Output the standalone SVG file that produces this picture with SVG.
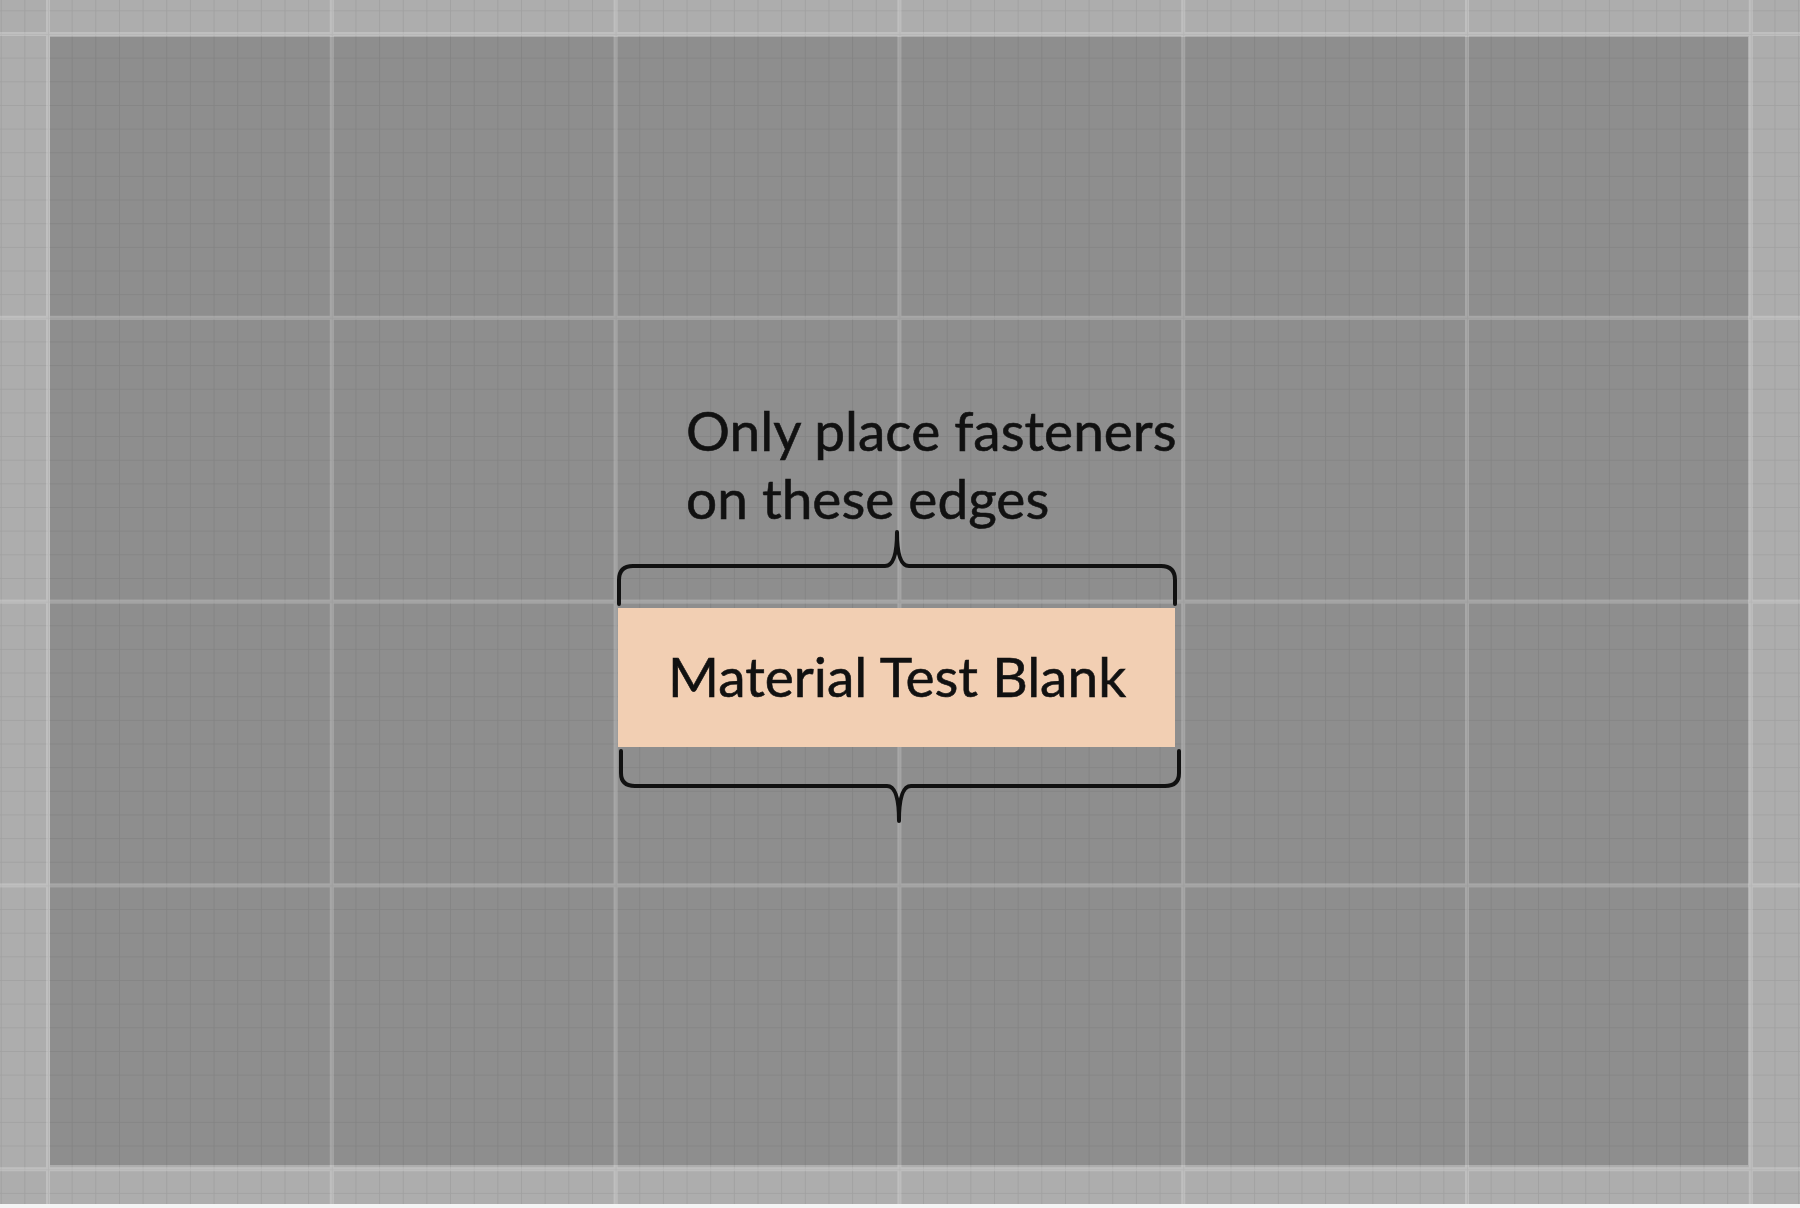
<svg xmlns="http://www.w3.org/2000/svg" width="1800" height="1208" viewBox="0 0 1800 1208">
<style>
.lbl{font-family:Lato,"Open Sans","Liberation Sans",sans-serif;font-size:55px;fill:#111111;stroke:#111111;stroke-width:0.6}
.brace{fill:none;stroke:#111111;stroke-width:4;stroke-linecap:round;stroke-linejoin:round}
</style>
<defs>
<pattern id="minor" patternUnits="userSpaceOnUse" x="48" y="34" width="23.65" height="23.65">
<path d="M0,0 V23.65 M0,0 H23.65" fill="none" stroke="#000" stroke-opacity="0.08" stroke-width="1.6"/>
</pattern>
<pattern id="major" patternUnits="userSpaceOnUse" x="46" y="32" width="283.8" height="283.8">
<path d="M2,0 V283.8 M0,2 H283.8" fill="none" stroke="#fff" stroke-opacity="0.22" stroke-width="4"/>
</pattern>
</defs>
<g id="background">
<rect x="0" y="0" width="1800" height="1208" fill="#adadad"/>
<rect x="50" y="37" width="1698" height="1128" fill="#8e8e8e"/>
<rect x="0" y="0" width="1800" height="1208" fill="url(#minor)"/>
<rect x="0" y="0" width="1800" height="1208" fill="url(#major)"/>
<rect x="0" y="1204" width="1800" height="4" fill="#f4f4f4"/>
</g>
<g id="blank">
<rect x="618" y="608" width="557" height="139" fill="#f2cfb3"/>
<text class="lbl" x="897" y="697" text-anchor="middle">Material Test Blank</text>
</g>
<g id="note">
<text class="lbl" x="686" y="451">Only place fasteners</text>
<text class="lbl" x="686" y="519">on these edges</text>
</g>
<g id="connectors">
<path class="brace" d="M619,604 V580 Q619,566 633,566 H885 Q897,566 897,532 Q897,566 909,566 H1161 Q1175,566 1175,580 V604"/>
<path class="brace" d="M621,751 V773 Q621,786 635,786 H887 Q899,786 899,821 Q899,786 911,786 H1165 Q1179,786 1179,773 V751"/>
</g>
</svg>
